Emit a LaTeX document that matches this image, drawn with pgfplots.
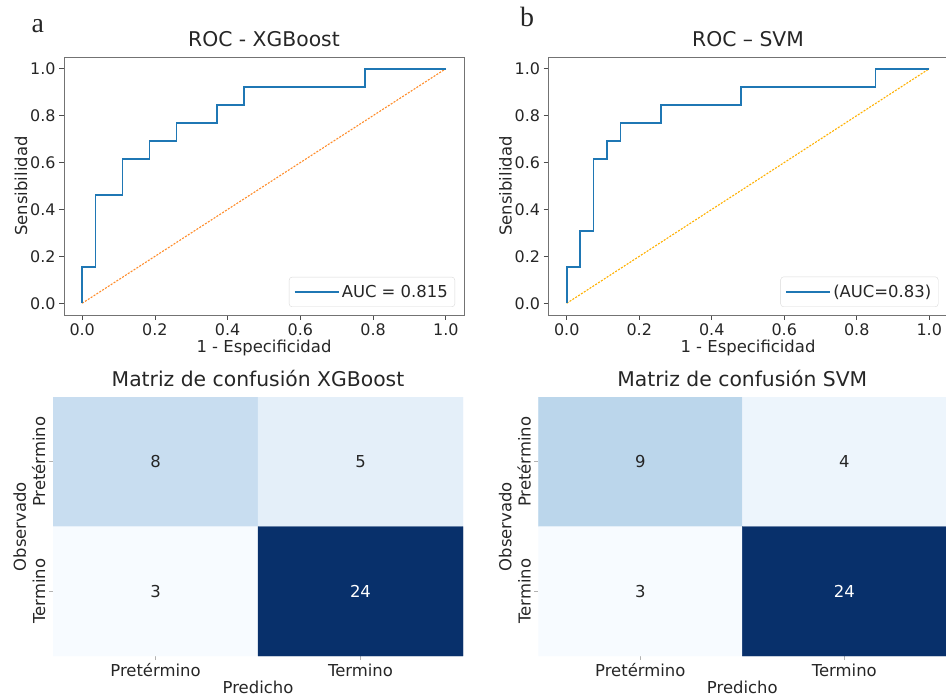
\documentclass[border=0pt]{standalone}
\usepackage{pgfplots}
\pgfplotsset{compat=1.18}
\usepackage{fontspec}
\setmainfont{DejaVu Sans}
\newfontfamily\panelfont{Liberation Serif}
\definecolor{rocblue}{HTML}{1F77B4}
\definecolor{diagA}{HTML}{FF8C2A}
\definecolor{diagB}{HTML}{FFB000}
\definecolor{txtdark}{HTML}{262626}
\newcommand\fs[1]{\fontsize{#1}{#1}\selectfont}
\pgfplotsset{
  colormap={blues}{rgb255=(247,251,255) rgb255=(222,235,247) rgb255=(198,219,239) rgb255=(158,202,225) rgb255=(107,174,214) rgb255=(66,146,198) rgb255=(33,113,181) rgb255=(8,81,156) rgb255=(8,48,107)},
  roc/.style={
    scale only axis, height=258bp,
    xmin=-0.05,xmax=1.05,ymin=-0.05,ymax=1.05,
    xtick={0,0.2,0.4,0.6,0.8,1.0}, ytick={0,0.2,0.4,0.6,0.8,1.0},
    /pgf/number format/fixed, /pgf/number format/fixed zerofill,
    /pgf/number format/precision=1, /pgf/number format/assume math mode=true,
    axis line style={black!55, line width=0.8bp},
    tick style={black!70, line width=0.8bp},
    major tick length=5bp, tick align=outside, tick pos=left,
    ticklabel style={font=\fs{16}, text=txtdark},
    title style={font=\fs{20.4}, text=txtdark, at={(0.5,1)}, anchor=base, yshift=5bp},
    xlabel style={font=\fs{16.5}, text=txtdark, at={(0.5,0)}, anchor=base, yshift=-38bp},
    ylabel style={font=\fs{16.5}, text=txtdark, anchor=base},
    legend style={at={(1,0)}, anchor=south east, xshift=-9bp, yshift=8bp,
      draw=black!15, rounded corners=3bp, font=\fs{16.5}, text=txtdark,
      inner xsep=5bp, inner ysep=6bp},
    legend cell align=left,
    legend image code/.code={\draw[#1] (0bp,0bp) -- (36bp,0bp); \path (0bp,0bp) -- (44bp,0bp);},
  },
  cm/.style={
    scale only axis, height=259bp,
    xmin=-0.5,xmax=1.5,ymin=-0.5,ymax=1.5, y dir=reverse,
    axis line style={draw=none},
    xtick={0,1}, ytick={0,1},
    xticklabels={Pretérmino,Termino}, yticklabels={Pretérmino,Termino},
    tick align=outside, tick pos=left, major tick length=4bp,
    tick style={black!30, line width=0.6bp},
    ticklabel style={font=\fs{16.5}, text=txtdark},
    yticklabel style={rotate=90, anchor=south},
    title style={font=\fs{20.4}, text=txtdark, at={(0.5,1)}, anchor=base, yshift=5bp},
    xlabel style={font=\fs{16.5}, text=txtdark, at={(0.5,0)}, anchor=base, yshift=-37bp},
    ylabel style={font=\fs{16.5}, text=txtdark, anchor=base},
    colormap name=blues, point meta min=3, point meta max=24,
  },
}
\begin{document}
\begin{tikzpicture}
\useasboundingbox (0bp,0bp) rectangle (946bp,697bp);

% ---------- ROC XGBoost ----------
\begin{axis}[roc, at={(64bp,382bp)}, anchor=south west, width=400bp,
  title={ROC - XGBoost}, xlabel={1 - Especificidad}, ylabel={Sensibilidad},
  ylabel style={at={(-0.0925,0.5)}}]
\addplot[diagA, dash pattern=on 2bp off 1.4bp, line width=1.1bp, forget plot] coordinates {(0,0) (1,1)};
\addplot[rocblue, line width=1.6bp] coordinates {
(0,0) (0,0.153846) (0.037037,0.153846) (0.037037,0.461538) (0.111111,0.461538)
(0.111111,0.615385) (0.185185,0.615385) (0.185185,0.692308) (0.259259,0.692308)
(0.259259,0.769231) (0.370370,0.769231) (0.370370,0.846154) (0.444444,0.846154)
(0.444444,0.923077) (0.777778,0.923077) (0.777778,1) (1,1)};
\addlegendentry{AUC = 0.815}
\end{axis}

% ---------- ROC SVM ----------
\begin{axis}[roc, at={(548.6bp,382bp)}, anchor=south west, width=398.8bp,
  title={ROC – SVM}, xlabel={1 - Especificidad}, ylabel={Sensibilidad},
  ylabel style={at={(-0.0928,0.5)}}]
\addplot[diagB, dash pattern=on 2bp off 1.4bp, line width=1.1bp, forget plot] coordinates {(0,0) (1,1)};
\addplot[rocblue, line width=1.6bp] coordinates {
(0,0) (0,0.153846) (0.037037,0.153846) (0.037037,0.307692) (0.074074,0.307692)
(0.074074,0.615385) (0.111111,0.615385) (0.111111,0.692308) (0.148148,0.692308)
(0.148148,0.769231) (0.259259,0.769231) (0.259259,0.846154) (0.481481,0.846154)
(0.481481,0.923077) (0.851852,0.923077) (0.851852,1) (1,1)};
\addlegendentry{(AUC=0.83)}
\end{axis}

% ---------- Confusion XGBoost ----------
\begin{axis}[cm, at={(53bp,41bp)}, anchor=south west, width=410bp,
  title={Matriz de confusión XGBoost}, xlabel={Predicho}, ylabel={Observado},
  ylabel style={at={(-0.0659,0.5)}}]
\addplot[matrix plot*, mesh/cols=2, point meta=explicit] table[meta=c] {
x y c
0 0 8
1 0 5
0 1 3
1 1 24
};
\addplot[draw=none, nodes near coords, point meta=explicit symbolic,
  every node near coord/.append style={anchor=center, font=\fs{16.5}, text=txtdark}]
  table[meta=c] {
x y c
0 0 8
1 0 5
0 1 3
};
\addplot[draw=none, nodes near coords, point meta=explicit symbolic,
  every node near coord/.append style={anchor=center, font=\fs{16.5}, text=white}]
  table[meta=c] {
x y c
1 1 24
};
\end{axis}

% ---------- Confusion SVM ----------
\begin{axis}[cm, at={(538.3bp,41bp)}, anchor=south west, width=408bp,
  title={Matriz de confusión SVM}, xlabel={Predicho}, ylabel={Observado},
  ylabel style={at={(-0.0662,0.5)}}]
\addplot[matrix plot*, mesh/cols=2, point meta=explicit] table[meta=c] {
x y c
0 0 9
1 0 4
0 1 3
1 1 24
};
\addplot[draw=none, nodes near coords, point meta=explicit symbolic,
  every node near coord/.append style={anchor=center, font=\fs{16.5}, text=txtdark}]
  table[meta=c] {
x y c
0 0 9
1 0 4
0 1 3
};
\addplot[draw=none, nodes near coords, point meta=explicit symbolic,
  every node near coord/.append style={anchor=center, font=\fs{16.5}, text=white}]
  table[meta=c] {
x y c
1 1 24
};
\end{axis}

\node[anchor=base west, font=\panelfont\fs{28}, text=black!85] at (28bp,664bp) {a};
\node[anchor=base west, font=\panelfont\fs{28}, text=black!85] at (516.7bp,670bp) {b};
\end{tikzpicture}
\end{document}
